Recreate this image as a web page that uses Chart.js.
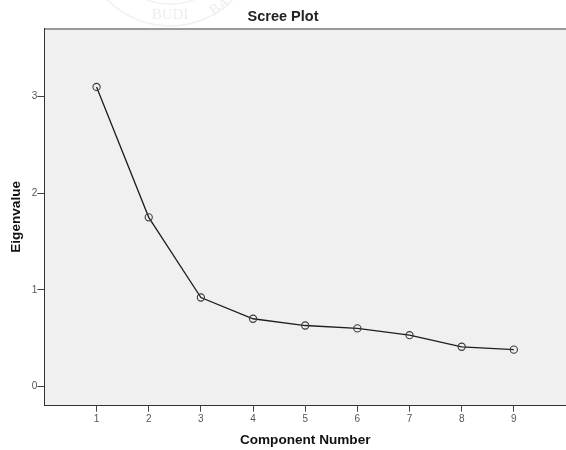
<!DOCTYPE html>
<html>
<head>
<meta charset="utf-8">
<script src="https://cdn.jsdelivr.net/npm/chart.js@4.4.0/dist/chart.umd.min.js"></script>
<style>
    html, body { margin: 0; padding: 0; background: #fff; overflow: hidden; }
    #screeChart { display: block; }
</style>
</head>
<body>
<canvas id="screeChart" width="566" height="450"></canvas>
<script>
// data
const components = [1, 2, 3, 4, 5, 6, 7, 8, 9];
const eigenvalues = [3.10, 1.75, 0.92, 0.70, 0.63, 0.60, 0.53, 0.41, 0.38];
const yTickValues = [0, 1, 2, 3];

const FONT = "'Liberation Sans', Arial, sans-serif";

// light grey plot area + grey top edge, faint seal watermark behind the title
const plotBackground = {
    id: 'plotBackground',
    beforeDraw: (chart) => {
        const { ctx, chartArea: a } = chart;
        ctx.save();
        // watermark
        ctx.strokeStyle = '#f1f1f1';
        ctx.lineWidth = 1.5;
        ctx.beginPath();
        ctx.arc(170, -62, 88, 0, Math.PI);
        ctx.stroke();
        ctx.beginPath();
        ctx.arc(170, -62, 66, 0, Math.PI);
        ctx.stroke();
        ctx.fillStyle = '#eeeeee';
        ctx.font = "15px 'Liberation Serif', serif";
        ctx.textAlign = 'center';
        ctx.fillText('BUDI', 170, 19);
        ctx.save();
        ctx.translate(222, 10);
        ctx.rotate(-0.6);
        ctx.fillText('BA', 0, 0);
        ctx.restore();

        ctx.fillStyle = '#f0f0f0';
        ctx.fillRect(a.left, a.top, a.right - a.left, a.bottom - a.top);
        ctx.strokeStyle = '#9a9a9a';
        ctx.lineWidth = 2;
        ctx.beginPath();
        ctx.moveTo(a.left, a.top + 1);
        ctx.lineTo(a.right, a.top + 1);
        ctx.stroke();
        ctx.restore();
    }
};

const ctx = document.getElementById('screeChart');

new Chart(ctx, {
    type: 'line',
    data: {
        datasets: [{
            label: 'Eigenvalue',
            data: components.map((c, i) => ({ x: c, y: eigenvalues[i] })),
            borderColor: '#1e1e1e',
            borderWidth: 1.3,
            tension: 0,
            fill: false,
            pointRadius: 3.6,
            pointBorderWidth: 1.1,
            pointBorderColor: '#3a3a3a',
            pointBackgroundColor: 'rgba(0,0,0,0)'
        }]
    },
    options: {
        responsive: false,
        animation: false,
        layout: { autoPadding: false, padding: 0 },
        plugins: {
            legend: { display: false },
            tooltip: { enabled: false },
            title: {
                display: true,
                text: 'Scree Plot',
                color: '#222',
                font: { family: FONT, size: 14.5, weight: 'bold', lineHeight: 1.2 },
                padding: { top: 8, bottom: 2.6 }
            }
        },
        scales: {
            x: {
                type: 'linear',
                min: 0,
                max: 10,
                afterBuildTicks: (scale) => {
                    scale.ticks = components.map(v => ({ value: v }));
                },
                afterFit: (scale) => {
                    scale.height = 44.3;
                    scale.paddingLeft = 0;
                    scale.paddingRight = 0;
                },
                grid: {
                    drawOnChartArea: false,
                    drawTicks: true,
                    tickLength: 6,
                    color: '#444'
                },
                border: { display: true, color: '#333', width: 1 },
                ticks: {
                    color: '#555',
                    font: { family: FONT, size: 10 },
                    padding: 2,
                    maxRotation: 0
                },
                title: {
                    display: true,
                    text: 'Component Number',
                    color: '#111',
                    font: { family: FONT, size: 13.6, weight: 'bold' },
                    padding: { top: 0, bottom: 1.5 }
                }
            },
            y: {
                type: 'linear',
                min: -0.2,
                max: 3.71,
                afterBuildTicks: (scale) => {
                    scale.ticks = yTickValues.map(v => ({ value: v }));
                },
                afterFit: (scale) => {
                    scale.width = 44.4;
                    scale.paddingTop = 0;
                    scale.paddingBottom = 0;
                },
                grid: {
                    drawOnChartArea: false,
                    drawTicks: true,
                    tickLength: 7,
                    color: '#444'
                },
                border: { display: true, color: '#333', width: 1 },
                ticks: {
                    color: '#555',
                    font: { family: FONT, size: 10 },
                    padding: 0
                },
                title: {
                    display: true,
                    text: 'Eigenvalue',
                    color: '#111',
                    font: { family: FONT, size: 13.6, weight: 'bold' },
                    padding: { top: 8.5, bottom: 0 }
                }
            }
        }
    },
    plugins: [plotBackground]
});
</script>
</body>
</html>
